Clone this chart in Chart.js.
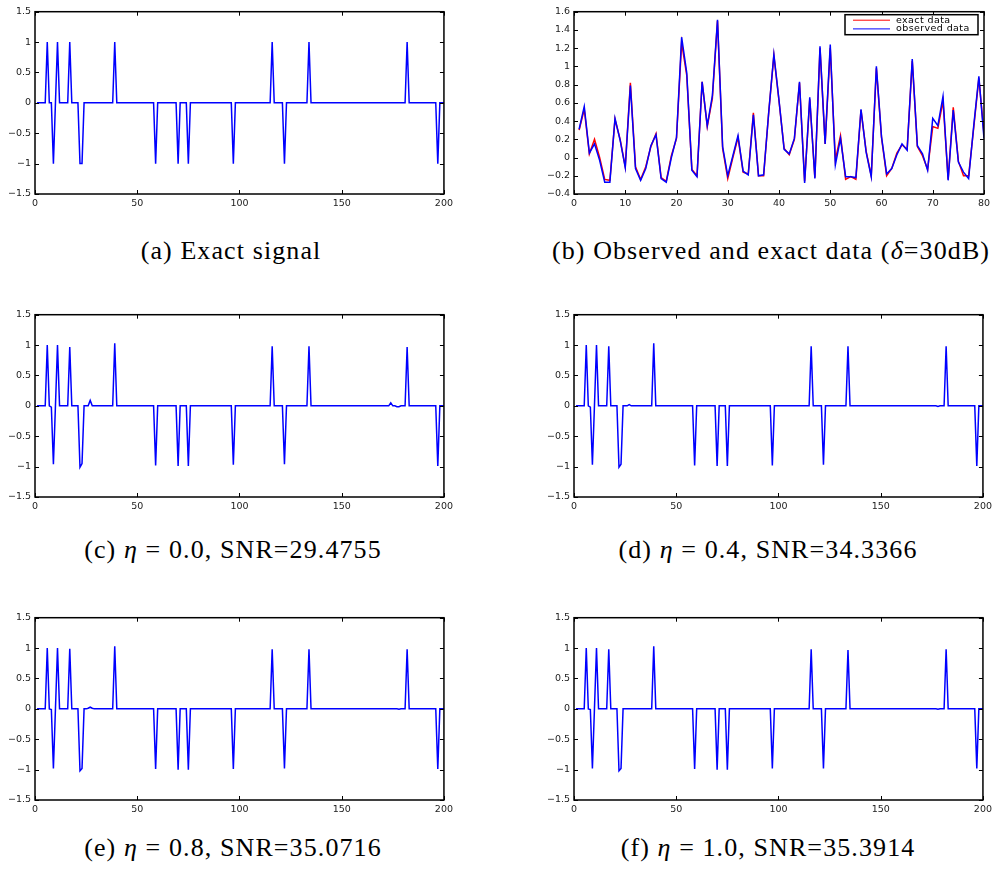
<!DOCTYPE html>
<html lang="en">
<head>
    <meta charset="UTF-8">
    <title>Signal reconstruction</title>
    <script src="https://cdn.jsdelivr.net/npm/chart.js"></script>
    <style>
        body {
            margin: 0;
            width: 999px;
            height: 875px;
            background: #ffffff;
            position: relative;
            overflow: hidden;
        }
        .panel {
            position: absolute;
            width: 452px;
            height: 208px;
        }
        .caption {
            position: absolute;
            font-family: 'Liberation Serif', 'Times New Roman', serif;
            font-size: 26px;
            letter-spacing: 1.1px;
            color: #000;
            white-space: nowrap;
            transform: translate(-50%, -50%);
        }
    </style>
</head>
<body>
    <div class="panel" style="left:5px; top:2px;"><canvas id="chartA"></canvas></div>
    <div class="panel" style="left:544px; top:2px;"><canvas id="chartB"></canvas></div>
    <div class="panel" style="left:5px; top:305px;"><canvas id="chartC"></canvas></div>
    <div class="panel" style="left:544px; top:305px;"><canvas id="chartD"></canvas></div>
    <div class="panel" style="left:5px; top:608px;"><canvas id="chartE"></canvas></div>
    <div class="panel" style="left:544px; top:608px;"><canvas id="chartF"></canvas></div>

    <div class="caption" style="left:231px; top:251px;">(a) Exact signal</div>
    <div class="caption" style="left:771px; top:251px;">(b) Observed and exact data (<i>δ</i>=30dB)</div>
    <div class="caption" style="left:233px; top:550px;">(c) <i>η</i> = 0.0, SNR=29.4755</div>
    <div class="caption" style="left:768px; top:550px;">(d) <i>η</i> = 0.4, SNR=34.3366</div>
    <div class="caption" style="left:233px; top:848px;">(e) <i>η</i> = 0.8, SNR=35.0716</div>
    <div class="caption" style="left:768px; top:848px;">(f) <i>η</i> = 1.0, SNR=35.3914</div>

    <script>
        // axes
        const signalLength = 200;
        const signalXTicks = [0, 50, 100, 150, 200];
        const signalYTicks = [-1.5, -1, -0.5, 0, 0.5, 1, 1.5];
        const dataXTicks = [0, 10, 20, 30, 40, 50, 60, 70, 80];
        const dataYTicks = [-0.4, -0.2, 0, 0.2, 0.4, 0.6, 0.8, 1, 1.2, 1.4, 1.6];

        // sparse signals: [sample index, value], every other sample is 0
        const exactSpikes = [[6, 1], [9, -1], [11, 1], [17, 1], [22, -1], [23, -1], [39, 1], [59, -1], [70, -1],
            [75, -1], [97, -1], [116, 1], [122, -1], [134, 1], [182, 1], [197, -1]];
        const eta00Spikes = [[6, 1], [8, -0.02], [9, -0.96], [11, 1], [17, 0.97], [22, -1.01], [23, -0.95], [27, 0.09],
            [39, 1.03], [59, -0.98], [70, -0.99], [75, -0.99], [97, -0.97], [116, 0.98], [122, -0.96], [134, 0.98],
            [174, 0.05], [177, -0.015], [178, -0.015], [182, 0.97], [197, -0.99]];
        const eta04Spikes = [[6, 1], [8, -0.02], [9, -0.97], [11, 1], [17, 0.98], [22, -1.01], [23, -0.96], [27, 0.02],
            [39, 1.03], [59, -0.98], [70, -0.99], [75, -0.99], [97, -0.98], [116, 0.98], [122, -0.97], [134, 0.98],
            [178, -0.01], [182, 0.98], [197, -0.99]];
        const eta08Spikes = [[6, 1], [8, -0.01], [9, -0.98], [11, 1], [17, 0.99], [22, -1.02], [23, -0.98], [26, 0.01],
            [27, 0.027], [28, 0.01], [39, 1.03], [59, -0.99], [70, -1], [75, -1], [97, -0.99], [116, 0.98],
            [122, -0.98], [134, 0.98], [178, -0.005], [182, 0.98], [197, -0.99]];
        const eta10Spikes = [[6, 1], [8, -0.01], [9, -0.98], [11, 1], [17, 0.98], [22, -1.02], [23, -0.98], [39, 1.03],
            [59, -0.99], [70, -1], [75, -1], [97, -0.98], [116, 0.98], [122, -0.98], [134, 0.97], [178, -0.005],
            [182, 0.98], [197, -0.98]];

        // panel (b), samples 1..80
        const exactData = [0.30, 0.53, 0.04, 0.20, 0.00, -0.24, -0.25, 0.42, 0.20, -0.10,
            0.82, -0.10, -0.24, -0.10, 0.12, 0.26, -0.22, -0.26, 0.02, 0.21,
            1.26, 0.90, -0.13, -0.20, 0.83, 0.34, 0.65, 1.50, 0.10, -0.23,
            0.00, 0.22, -0.16, -0.18, 0.49, -0.20, -0.20, 0.50, 1.12, 0.62,
            0.10, 0.03, 0.20, 0.82, -0.26, 0.64, -0.22, 1.20, 0.15, 1.20,
            -0.03, 0.24, -0.24, -0.21, -0.24, 0.52, 0.07, -0.20, 0.98, 0.22,
            -0.20, -0.12, 0.05, 0.14, 0.09, 1.06, 0.12, 0.02, -0.13, 0.34,
            0.32, 0.62, -0.24, 0.55, -0.04, -0.20, -0.20, 0.33, 0.87, 0.26];
        const observedData = [0.31, 0.56, 0.05, 0.15, -0.03, -0.27, -0.27, 0.43, 0.19, -0.11,
            0.79, -0.12, -0.25, -0.12, 0.13, 0.25, -0.23, -0.27, 0.00, 0.22,
            1.32, 0.93, -0.14, -0.21, 0.83, 0.35, 0.68, 1.51, 0.12, -0.20,
            0.02, 0.24, -0.15, -0.19, 0.47, -0.20, -0.19, 0.50, 1.13, 0.63,
            0.09, 0.04, 0.21, 0.83, -0.28, 0.66, -0.23, 1.22, 0.15, 1.24,
            -0.08, 0.21, -0.21, -0.21, -0.22, 0.53, 0.06, -0.21, 1.00, 0.23,
            -0.18, -0.12, 0.03, 0.15, 0.08, 1.08, 0.13, 0.04, -0.14, 0.43,
            0.35, 0.67, -0.25, 0.52, -0.05, -0.16, -0.23, 0.35, 0.89, 0.21];

        function spikeSeries(spikes) {
            const y = new Array(signalLength).fill(0);
            spikes.forEach(([i, v]) => { y[i - 1] = v; });
            return y.map((v, k) => ({ x: k + 1, y: v }));
        }

        function indexSeries(values) {
            return values.map((v, k) => ({ x: k + 1, y: v }));
        }

        function lineSet(label, points, color, order) {
            return {
                label: label,
                data: points,
                borderColor: color,
                backgroundColor: color,
                borderWidth: 1.5,
                pointRadius: 0,
                tension: 0,
                order: order
            };
        }

        const tickFont = { family: "'DejaVu Sans', sans-serif", size: 9.5 };
        const fmt = v => String(v).replace('-', '\u2212');

        // black box + inward tick marks, matlab style
        const axesFrame = {
            id: 'axesFrame',
            afterDatasetsDraw(chart) {
                const { ctx, chartArea: a, scales } = chart;
                ctx.save();
                ctx.strokeStyle = '#000';
                ctx.lineWidth = 1;
                ctx.beginPath();
                scales.x.ticks.forEach(t => {
                    const px = Math.round(scales.x.getPixelForValue(t.value)) + 0.5;
                    ctx.moveTo(px, a.bottom); ctx.lineTo(px, a.bottom - 4);
                    ctx.moveTo(px, a.top); ctx.lineTo(px, a.top + 4);
                });
                scales.y.ticks.forEach(t => {
                    const py = Math.round(scales.y.getPixelForValue(t.value)) + 0.5;
                    ctx.moveTo(a.left, py); ctx.lineTo(a.left + 4, py);
                    ctx.moveTo(a.right, py); ctx.lineTo(a.right - 4, py);
                });
                ctx.stroke();
                ctx.lineWidth = 1.5;
                ctx.strokeRect(a.left, a.top, a.right - a.left, a.bottom - a.top);
                ctx.restore();
            }
        };

        // boxed legend inside the top right corner
        const boxLegend = {
            id: 'boxLegend',
            afterDraw(chart) {
                const { ctx, chartArea: a } = chart;
                const sets = chart.data.datasets;
                const w = 133, h = 20;
                const x0 = a.right - 6 - w, y0 = a.top + 3;
                ctx.save();
                ctx.fillStyle = '#fff';
                ctx.fillRect(x0, y0, w, h);
                ctx.strokeStyle = '#000';
                ctx.lineWidth = 1.5;
                ctx.strokeRect(x0, y0, w, h);
                ctx.font = "9.5px 'DejaVu Sans', sans-serif";
                ctx.letterSpacing = '0.4px';
                ctx.textBaseline = 'middle';
                sets.forEach((ds, i) => {
                    const yy = y0 + 5.5 + i * 8.7;
                    ctx.strokeStyle = ds.borderColor;
                    ctx.lineWidth = 1;
                    ctx.beginPath();
                    ctx.moveTo(x0 + 8, yy);
                    ctx.lineTo(x0 + 45, yy);
                    ctx.stroke();
                    ctx.fillStyle = '#000';
                    ctx.fillText(ds.label, x0 + 51, yy);
                });
                ctx.restore();
            }
        };

        function makePanel(id, datasets, xTicks, yTicks, extraPlugins) {
            return new Chart(document.getElementById(id), {
                type: 'line',
                data: { datasets: datasets },
                options: {
                    responsive: true,
                    maintainAspectRatio: false,
                    animation: false,
                    events: [],
                    layout: { padding: { top: 8, right: 12, bottom: 0, left: 0 } },
                    plugins: {
                        legend: { display: false },
                        tooltip: { enabled: false }
                    },
                    scales: {
                        x: {
                            type: 'linear',
                            min: xTicks[0],
                            max: xTicks[xTicks.length - 1],
                            afterBuildTicks: s => { s.ticks = xTicks.map(v => ({ value: v })); },
                            afterFit: s => { s.height = 16; },
                            grid: { display: false, drawTicks: false },
                            border: { display: false },
                            ticks: { padding: 4, font: tickFont, color: '#222', maxRotation: 0, autoSkip: false, callback: fmt }
                        },
                        y: {
                            type: 'linear',
                            min: yTicks[0],
                            max: yTicks[yTicks.length - 1],
                            afterBuildTicks: s => { s.ticks = yTicks.map(v => ({ value: v })); },
                            afterFit: s => { s.width = 30; },
                            grid: { display: false, drawTicks: false },
                            border: { display: false },
                            ticks: { padding: 4, font: tickFont, color: '#222', autoSkip: false, callback: fmt }
                        }
                    }
                },
                plugins: [axesFrame].concat(extraPlugins || [])
            });
        }

        makePanel('chartA', [lineSet('exact signal', spikeSeries(exactSpikes), '#0000ff', 0)], signalXTicks, signalYTicks);
        // observed drawn on top of exact; legend keeps exact first
        makePanel('chartB', [
            lineSet('exact data', indexSeries(exactData), '#ff0000', 1),
            lineSet('observed data', indexSeries(observedData), '#0000ff', 0)
        ], dataXTicks, dataYTicks, [boxLegend]);
        makePanel('chartC', [lineSet('eta 0.0', spikeSeries(eta00Spikes), '#0000ff', 0)], signalXTicks, signalYTicks);
        makePanel('chartD', [lineSet('eta 0.4', spikeSeries(eta04Spikes), '#0000ff', 0)], signalXTicks, signalYTicks);
        makePanel('chartE', [lineSet('eta 0.8', spikeSeries(eta08Spikes), '#0000ff', 0)], signalXTicks, signalYTicks);
        makePanel('chartF', [lineSet('eta 1.0', spikeSeries(eta10Spikes), '#0000ff', 0)], signalXTicks, signalYTicks);
    </script>
</body>
</html>
